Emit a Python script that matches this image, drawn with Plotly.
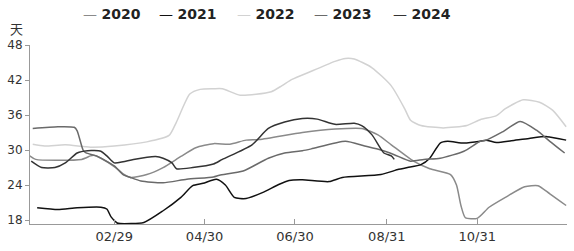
import plotly.graph_objects as go

YEAR_NAMES = ["2020", "2021", "2022", "2023", "2024"]
COLORS = ["#8a8a8a", "#111111", "#d2d2d2", "#6a6a6a", "#333333"]

d2020 = ["01/03","01/07","02/07","02/13","02/15","02/20","03/01","03/06","03/11","03/22","04/02","04/14","04/24","05/06","05/17","05/28","06/06","07/05","07/27","08/14","08/25","09/03","09/18","09/29","10/13","10/17","10/20","10/23","10/31","11/08","11/19","12/02","12/11","12/19","12/30"]
v2020 = [29.0,28.4,28.4,29.0,29.1,28.6,27.0,25.9,25.3,25.8,27.0,28.9,30.4,31.1,31.0,31.7,31.8,33.0,33.6,33.7,32.6,30.9,28.1,26.8,25.8,24.0,20.5,18.4,18.3,20.2,21.9,23.7,23.9,22.5,20.5]

d2021 = ["01/08","01/22","02/04","02/20","02/24","02/27","03/02","03/04","03/20","04/02","04/14","04/22","04/29","05/08","05/14","05/20","05/28","06/08","06/19","06/26","07/05","07/23","08/01","08/27","09/08","09/14","09/23","09/29","10/06","10/11","10/22","11/02","11/06","11/13","11/23","12/05","12/17","12/30"]
v2021 = [20.1,19.8,20.1,20.2,19.9,18.5,17.5,17.4,17.6,19.6,21.9,23.9,24.3,25.0,24.0,21.9,21.7,22.7,24.1,24.8,24.9,24.6,25.3,25.8,26.7,27.0,27.5,28.6,31.2,31.5,31.2,31.5,31.7,31.3,31.6,32.0,32.3,31.7]

d2022 = ["01/05","01/13","01/27","02/13","02/29","03/22","04/06","04/11","04/20","04/27","05/06","05/12","05/24","06/14","06/21","06/28","07/11","07/27","08/03","08/09","08/21","09/03","09/12","09/16","09/23","10/08","10/24","11/02","11/13","11/19","12/01","12/12","12/21","12/30"]
v2022 = [31.0,30.7,30.9,30.5,30.7,31.4,32.5,34.8,39.6,40.4,40.5,40.5,39.4,40.0,41.0,42.1,43.5,45.2,45.7,45.6,44.1,41.0,37.1,35.1,34.2,33.8,34.2,35.2,35.9,37.1,38.6,38.2,36.8,34.0]

d2023 = ["01/05","01/22","02/02","02/04","02/08","02/10","02/17","02/29","03/06","03/11","03/18","04/02","04/18","05/06","05/10","05/26","06/12","06/23","07/05","07/11","08/03","08/16","08/27","09/05","09/16","09/25","10/06","10/22","11/02","11/06","11/17","11/29","12/10","12/19","12/29"]
v2023 = [33.7,34.0,33.9,33.3,30.0,29.5,29.0,27.3,25.8,25.3,24.7,24.4,25.0,25.4,25.7,26.4,28.6,29.5,29.9,30.2,31.5,30.7,30.0,29.2,28.1,28.4,28.6,29.8,31.5,31.7,33.1,34.9,33.4,31.5,29.5]

d2024 = ["01/04","01/11","01/20","01/27","02/04","02/11","02/20","02/24","02/29","03/06","03/13","03/28","04/02","04/08","04/11","04/22","05/06","05/12","06/01","06/12","06/23","07/05","07/15","07/27","08/09","08/14","08/21","08/29","09/03","09/05"]
v2024 = [28.1,27.0,27.0,27.8,29.5,29.9,29.8,29.0,27.8,28.0,28.4,28.9,28.6,27.8,26.8,27.0,27.6,28.4,30.9,33.7,34.8,35.4,35.3,34.4,34.6,34.2,32.6,29.5,29.0,28.4]

Y_TICKS = [18, 24, 30, 36, 42, 48]
X_TICKS = ["02/29", "04/30", "06/30", "08/31", "10/31"]
UNIT = "天"

series_dates = [d2020, d2021, d2022, d2023, d2024]
series_vals = [v2020, v2021, v2022, v2023, v2024]

def to_date(md):
    m, d = md.split("/")
    return f"2024-{m}-{d}"

fig = go.Figure()
for name, color, ds, vs in zip(YEAR_NAMES, COLORS, series_dates, series_vals):
    fig.add_trace(go.Scatter(
        x=[to_date(s) for s in ds], y=vs, name=name, mode="lines",
        line=dict(color=color, width=1.5, shape="spline", smoothing=0.6),
        showlegend=False, hoverinfo="skip"))

# legend built as text entries
legend_px = [76, 153, 232, 310, 389]
W = 574 - 25 - 7
for px, name, color in zip(legend_px, YEAR_NAMES, COLORS):
    fig.add_annotation(
        x=(px - 25) / W, y=13, xref="paper", yref="paper", yanchor="middle", xanchor="left",
        text=f'<span style="color:{color}">—</span> <b>{name}</b>',
        showarrow=False, font=dict(family="DejaVu Sans", size=14, color="#222"))

fig.add_annotation(
    x=-22 / W, y=28, xref="paper", yref="paper", xanchor="left", yanchor="middle",
    text=UNIT, showarrow=False, font=dict(family="Noto Sans CJK SC", size=13, color="#333"))

# convert pixel-based annotation y to paper
H = 251 - 45 - 24
for a in fig.layout.annotations:
    a.y = (227 - a.y) / H

fig.update_layout(
    width=574, height=251,
    margin=dict(l=25, r=7, t=45, b=24),
    paper_bgcolor="white", plot_bgcolor="white",
    showlegend=False,
    font=dict(family="DejaVu Sans", color="#333"),
)
fig.update_xaxes(
    type="date", range=["2024-01-03 04:00", "2024-12-30 14:00"],
    tickvals=[to_date(t) for t in X_TICKS], ticktext=X_TICKS,
    showgrid=False, zeroline=False, showline=True, linecolor="#999", linewidth=1,
    ticks="inside", ticklen=5, tickcolor="#999",
    tickfont=dict(size=13, color="#333"),
)
fig.update_yaxes(
    range=[17.33, 48], tickvals=Y_TICKS,
    showgrid=False, zeroline=False, showline=True, linecolor="#999", linewidth=1,
    ticks="outside", ticklen=4, tickcolor="#999",
    tickfont=dict(size=12, color="#333"),
)
fig.write_html("out.html")
